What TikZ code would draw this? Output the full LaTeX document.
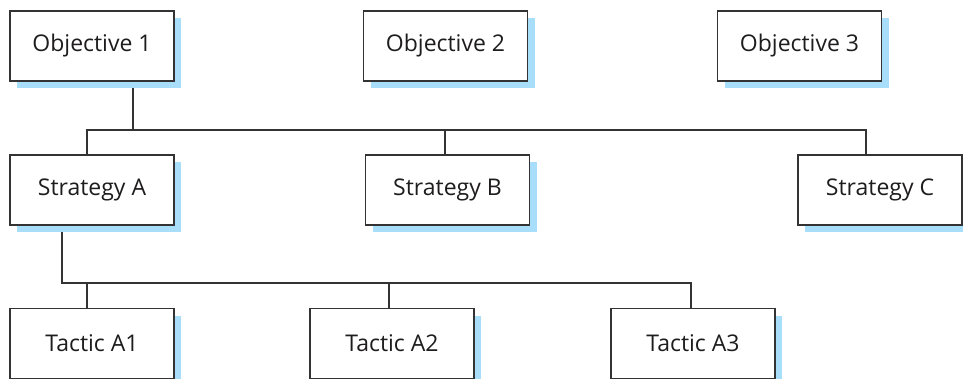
\documentclass[tikz,border=0pt]{standalone}
\usepackage{fontspec}
\setmainfont{Open Sans}
\usetikzlibrary{shadows,backgrounds}
\definecolor{shadowblue}{RGB}{168,222,250}
\definecolor{txtgray}{RGB}{30,28,29}
\definecolor{linegray}{RGB}{51,51,51}
\tikzset{
  box/.style={draw=linegray, line width=1.3pt, fill=white, minimum width=164pt, minimum height=70pt,
    inner sep=0pt, text=txtgray, font=\fontsize{23}{26}\selectfont,
    drop shadow={shadow xshift=7pt, shadow yshift=-7pt, fill=shadowblue, opacity=1, draw=none}},
  conn/.style={draw=linegray, line width=1.2pt}
}
\begin{document}
\begin{tikzpicture}[x=1pt,y=-1pt]
\useasboundingbox (0,0) rectangle (963,379);
\node[box] (O1) at (92,46) {Objective 1};
\node[box] (O2) at (445.5,46) {Objective 2};
\node[box] (O3) at (799.5,46) {Objective 3};
\node[box] (SA) at (92,190) {Strategy A};
\node[box] (SB) at (447.5,190) {Strategy B};
\node[box] (SC) at (880,190) {Strategy C};
\node[box] (TA1) at (92,343.5) {Tactic A1};
\node[box] (TA2) at (392,343.5) {Tactic A2};
\node[box] (TA3) at (693,343.5) {Tactic A3};
\coordinate (j1) at (133,130);
\coordinate (bA) at (87,130);
\coordinate (bB) at (445,130);
\coordinate (bC) at (866,130);
\coordinate (j2) at (62,283);
\coordinate (t1) at (87,283);
\coordinate (t2) at (389,283);
\coordinate (t3) at (691,283);
\begin{pgfonlayer}{background}
\draw[conn] (O1.south -| j1) -- (j1);
\draw[conn] (SA.north -| bA) -- (bA) -- (bC) -- (SC.north -| bC);
\draw[conn] (bB) -- (SB.north -| bB);
\draw[conn] (SA.south -| j2) -- (j2) -- (t3) -- (TA3.north -| t3);
\draw[conn] (t1) -- (TA1.north -| t1);
\draw[conn] (t2) -- (TA2.north -| t2);
\end{pgfonlayer}
\end{tikzpicture}
\end{document}
